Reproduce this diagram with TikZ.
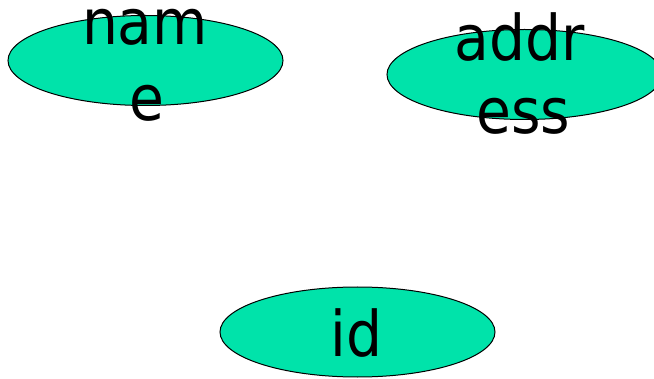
\documentclass[tikz,border=0pt]{standalone}
\usepackage{fontspec}
\setmainfont{DejaVu Sans Condensed}
\usetikzlibrary{shapes.geometric}
\definecolor{attrgreen}{RGB}{0,227,170}
\begin{document}
\begin{tikzpicture}[x=1pt,y=1pt,
  attr/.style={ellipse, draw=black, line width=1pt, fill=attrgreen,
    minimum width=275pt, minimum height=90pt, inner sep=0pt},
  word/.style={anchor=base, inner sep=0pt,
    font=\fontsize{63}{74}\selectfont}]
\useasboundingbox (0,0) rectangle (654,378);
% attribute ovals
\node[attr] (name) at (145.5,317.5) {};
\node[attr] (address) at (524.5,303.5) {};
\node[attr] (id) at (357.5,46) {};
% labels, split over lines as printed
\node[word] (name1) at (145,333) {nam};
\node[word] (name2) at (146.5,257) {e};
\node[word] (addr1) at (519.5,317) {addr};
\node[word] (addr2) at (523.5,244) {ess};
\node[word] (id1) at (356.5,22) {id};
\end{tikzpicture}
\end{document}
